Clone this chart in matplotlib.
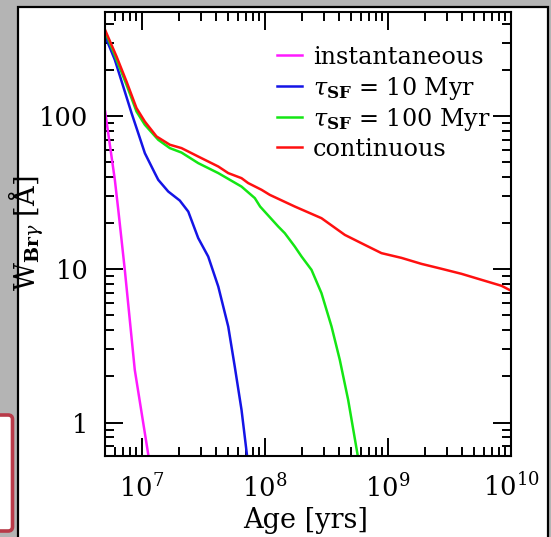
import numpy as np
import matplotlib
matplotlib.use("Agg")
import matplotlib.pyplot as plt
from matplotlib.patches import Rectangle, FancyBboxPatch
from matplotlib.lines import Line2D
from matplotlib.ticker import LogLocator, FixedLocator, FixedFormatter, NullFormatter

# ---- data (log10 age [yr], log10 W_Brgamma [Angstrom]) ----
inst_logt = [6.70, 6.779, 6.807, 6.860, 6.941, 7.055]
inst_logw = [2.029, 1.583, 1.387, 0.996, 0.344, -0.23]

tau10_logt = [6.70, 6.779, 6.847, 6.915, 6.969, 7.023, 7.104, 7.132, 7.213, 7.307,
              7.376, 7.457, 7.538, 7.620, 7.701, 7.754, 7.809, 7.856]
tau10_logw = [2.52, 2.366, 2.192, 2.018, 1.888, 1.757, 1.627, 1.583, 1.507, 1.448,
              1.376, 1.203, 1.083, 0.887, 0.626, 0.365, 0.083, -0.23]

tau100_logt = [6.70, 6.793, 6.874, 6.955, 7.023, 7.132, 7.226, 7.321, 7.457, 7.620,
               7.809, 7.917, 7.96, 8.107, 8.161, 8.242, 8.297, 8.378, 8.459, 8.541,
               8.608, 8.676, 8.757]
tau100_logw = [2.55, 2.366, 2.203, 2.029, 1.942, 1.844, 1.790, 1.761, 1.692, 1.627,
               1.539, 1.464, 1.409, 1.279, 1.235, 1.148, 1.083, 0.996, 0.844, 0.626,
               0.409, 0.148, -0.23]

cont_logt = [6.70, 6.793, 6.874, 6.955, 7.023, 7.118, 7.226, 7.321, 7.457, 7.620,
             7.701, 7.809, 7.863, 7.972, 8.039, 8.242, 8.459, 8.649, 8.811, 8.947,
             9.110, 9.272, 9.435, 9.598, 9.760, 9.923, 10.0]
cont_logw = [2.56, 2.387, 2.224, 2.051, 1.963, 1.866, 1.812, 1.790, 1.735, 1.670,
             1.627, 1.594, 1.562, 1.518, 1.485, 1.409, 1.333, 1.224, 1.159, 1.105,
             1.074, 1.035, 1.003, 0.970, 0.931, 0.892, 0.86]

series_labels = ["instantaneous", r"$\tau_{\mathbf{SF}}$ = 10 Myr",
                 r"$\tau_{\mathbf{SF}}$ = 100 Myr", "continuous"]
series_colors = ["#ff1aff", "#1414e6", "#14e614", "#ff1010"]

ytick_vals = [1, 10, 100]
ytick_labels = ["1", "10", "100"]
xtick_vals = [1e7, 1e8, 1e9, 1e10]
xtick_labels = [r"$10^{7}$", r"$10^{8}$", r"$10^{9}$", r"$10^{10}$"]

# ---- figure ----
W, H = 551, 537
plt.rcParams["font.family"] = ["DejaVu Serif"]
plt.rcParams["mathtext.fontset"] = "dejavuserif"

fig = plt.figure(figsize=(W / 100, H / 100), dpi=100, facecolor="#b4b4b4")

def fx(px):
    return px / W

def fy(py):
    return 1 - py / H

# white slide panel with black border
panel = Rectangle((fx(17.5), fy(545)), fx(548) - fx(17.5), fy(6.5) - fy(545),
                  transform=fig.transFigure, facecolor="white", edgecolor="black",
                  lw=1.6, zorder=-5)
fig.add_artist(panel)
# red rounded box at left edge
rbox = FancyBboxPatch((fx(-10), fy(531)), fx(12.5) - fx(-10), fy(415) - fy(531),
                      boxstyle="round,pad=0,rounding_size=0.008",
                      transform=fig.transFigure, facecolor="white",
                      edgecolor="#b83a48", lw=2.6, zorder=-4)
fig.add_artist(rbox)

ax = fig.add_axes([fx(105), fy(455.5), fx(511) - fx(105), fy(12) - fy(455.5)])
ax.set_facecolor("white")

all_t = [inst_logt, tau10_logt, tau100_logt, cont_logt]
all_w = [inst_logw, tau10_logw, tau100_logw, cont_logw]
for t, w, c, lab in zip(all_t, all_w, series_colors, series_labels):
    ax.plot(10 ** np.array(t), 10 ** np.array(w), color=c, lw=1.8, label=lab,
            solid_joinstyle="round")

ax.set_xscale("log")
ax.set_yscale("log")
ax.set_xlim(5e6, 1e10)
ax.set_ylim(0.61, 476)

ax.xaxis.set_major_locator(FixedLocator(xtick_vals))
ax.xaxis.set_major_formatter(FixedFormatter(xtick_labels))
ax.xaxis.set_minor_locator(LogLocator(base=10, subs=np.arange(2, 10), numticks=20))
ax.xaxis.set_minor_formatter(NullFormatter())
ax.yaxis.set_major_locator(FixedLocator(ytick_vals))
ax.yaxis.set_major_formatter(FixedFormatter(ytick_labels))
ax.yaxis.set_minor_locator(LogLocator(base=10, subs=np.arange(2, 10), numticks=20))
ax.yaxis.set_minor_formatter(NullFormatter())

for s in ax.spines.values():
    s.set_linewidth(1.5)
ax.tick_params(which="both", direction="in", top=True, right=True, width=1.4,
               colors="black")
ax.tick_params(which="major", length=13)
ax.tick_params(which="minor", length=6.5)
ax.tick_params(axis="x", which="major", labelsize=18.5, pad=13)
ax.tick_params(axis="y", which="major", labelsize=18.5, pad=12)

# axis labels
fig.text(fx(306), fy(528), "Age [yrs]", fontsize=19.5, ha="center", va="baseline")
fig.text(fx(36), fy(233), r"W$_{\mathbf{Br}\gamma}$ [Å]", fontsize=19.5, rotation=90,
         rotation_mode="anchor", ha="center", va="baseline")

# legend (manual layout)
leg_rows_y = [55, 86, 116.5, 146.5]
for yy, c, lab in zip(leg_rows_y, series_colors, series_labels):
    fig.add_artist(Line2D([fx(277), fx(302)], [fy(yy), fy(yy)], color=c, lw=1.8,
                          transform=fig.transFigure))
    fig.text(fx(313), fy(yy + 9.5), lab, fontsize=17.2, ha="left", va="baseline")

fig.savefig("out.png", dpi=100, facecolor=fig.get_facecolor())
